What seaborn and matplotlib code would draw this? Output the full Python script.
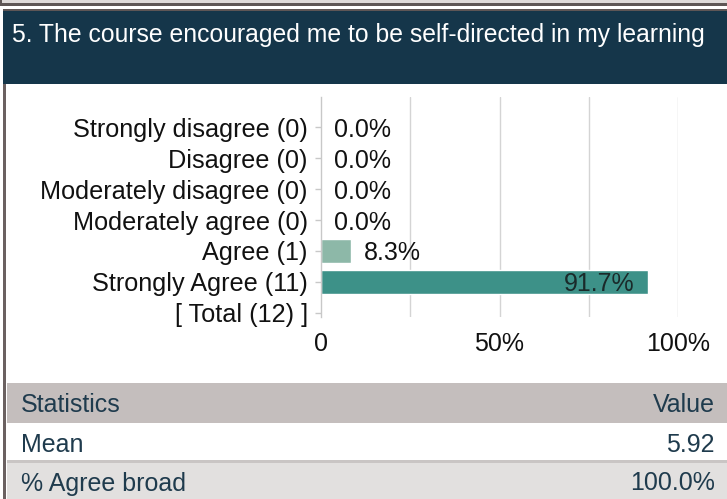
import matplotlib
matplotlib.use("Agg")
import matplotlib.pyplot as plt
import seaborn as sns
import pandas as pd
import numpy as np
from matplotlib.patches import Rectangle

# ---------------- data ----------------
title = "5. The course encouraged me to be self-directed in my learning"
categories = ["Strongly disagree (0)", "Disagree (0)", "Moderately disagree (0)",
              "Moderately agree (0)", "Agree (1)", "Strongly Agree (11)", "[ Total (12) ]"]
percents = [0.0, 0.0, 0.0, 0.0, 8.3, 91.7, np.nan]
bar_colors = ["#3d9188", "#3d9188", "#3d9188", "#3d9188", "#8db8a8", "#3d9188", "#3d9188"]
x_ticks = [0, 50, 100]
x_tick_labels = ["0", "50%", "100%"]
stat_header = ["Statistics", "Value"]
stat_names = ["Mean", "% Agree broad"]
stat_values = ["5.92", "100.0%"]

# ---------------- figure ----------------
W, H = 727, 499
DPI = 100
sns.set_theme(style="white")
plt.rcParams["font.family"] = ["Liberation Sans", "DejaVu Sans"]

fig = plt.figure(figsize=(W / DPI, H / DPI), dpi=DPI)
fig.patch.set_facecolor("white")

def px(n):  # pixels -> points
    return n * 72.0 / DPI

def rect(x0, y0, x1, y1, color):
    fig.patches.append(Rectangle((x0 / W, 1 - y1 / H), (x1 - x0) / W, (y1 - y0) / H,
                                 transform=fig.transFigure, facecolor=color,
                                 edgecolor="none", zorder=0))

# top strip and borders
rect(0, 0, W, 4, "#dedad9")
rect(0, 0, 2, 5, "#5e5656")
rect(0, 3.5, W, 5.5, "#5e5656")
rect(3, 9, W, 11.5, "#5e5656")
rect(3, 11, W, 84, "#15364a")
rect(3, 84, 5.5, H, "#6b6161")

# title
fig.text(12 / W, 1 - 42 / H, title, color="white", fontsize=px(24.7),
         ha="left", va="baseline")

# statistics table
txt_col = "#1f3b4d"
rect(7, 383, W, 423, "#c4bebd")
rect(7, 423, W, 460, "white")
rect(7, 460, W, 463, "#c9c5c4")
rect(7, 463, W, H, "#e2e0df")
fs_stat = px(25)
rows_y = [403, 442, 481]
fig.text(21 / W, 1 - rows_y[0] / H, stat_header[0], color=txt_col, fontsize=fs_stat,
         ha="left", va="center_baseline")
fig.text(715 / W, 1 - rows_y[0] / H, stat_header[1], color=txt_col, fontsize=fs_stat,
         ha="right", va="center_baseline")
for name, val, yy in zip(stat_names, stat_values, rows_y[1:]):
    fig.text(21 / W, 1 - yy / H, name, color=txt_col, fontsize=fs_stat,
             ha="left", va="center_baseline")
    fig.text(715 / W, 1 - yy / H, val, color=txt_col, fontsize=fs_stat,
             ha="right", va="center_baseline")

# chart axes
ax_l, ax_r, ax_t, ax_b = 321, 678, 97, 317
ax = fig.add_axes([ax_l / W, 1 - ax_b / H, (ax_r - ax_l) / W, (ax_b - ax_t) / H])
ax.set_facecolor("white")

df = pd.DataFrame({"label": categories, "pct": percents})
palette = dict(zip(categories, bar_colors))
sns.barplot(data=df, y="label", x="pct", hue="label", palette=palette, order=categories,
            hue_order=categories, orient="h", width=0.75, legend=False, ax=ax,
            saturation=1, errorbar=None)

ax.set_xlim(0, 100)
ax.set_ylim(6.13, -0.97)
ax.set_xticks(x_ticks)
ax.set_xticklabels(x_tick_labels)
ax.grid(False)
for gx in [25, 50, 75, 100]:
    ax.axvline(gx, color="#d4d4d4", lw=1, zorder=0)
ax.set_axisbelow(True)
ax.set_xlabel("")
ax.set_ylabel("")
for s in ["top", "right", "bottom"]:
    ax.spines[s].set_visible(False)
ax.spines["left"].set_color("#c8c8c8")
ax.spines["left"].set_linewidth(1)
ax.tick_params(axis="y", length=px(6), width=1, color="#c8c8c8", pad=px(7),
               labelsize=px(25.3), labelcolor="#111111", left=True)
ax.tick_params(axis="x", which="both", length=0, pad=px(15), labelsize=px(25),
               labelcolor="#111111")

# value labels
for i, v in enumerate(percents):
    if np.isnan(v):
        continue
    if v > 50:
        ax.annotate(f"{v:.1f}%", xy=(v, i), xytext=(-px(14), 0), textcoords="offset points",
                    ha="right", va="center_baseline", fontsize=px(25), color="#1a2a2a")
    else:
        ax.annotate(f"{v:.1f}%", xy=(v, i), xytext=(px(13), 0), textcoords="offset points",
                    ha="left", va="center_baseline", fontsize=px(25), color="#111111")

fig.savefig("out.png", dpi=DPI)
